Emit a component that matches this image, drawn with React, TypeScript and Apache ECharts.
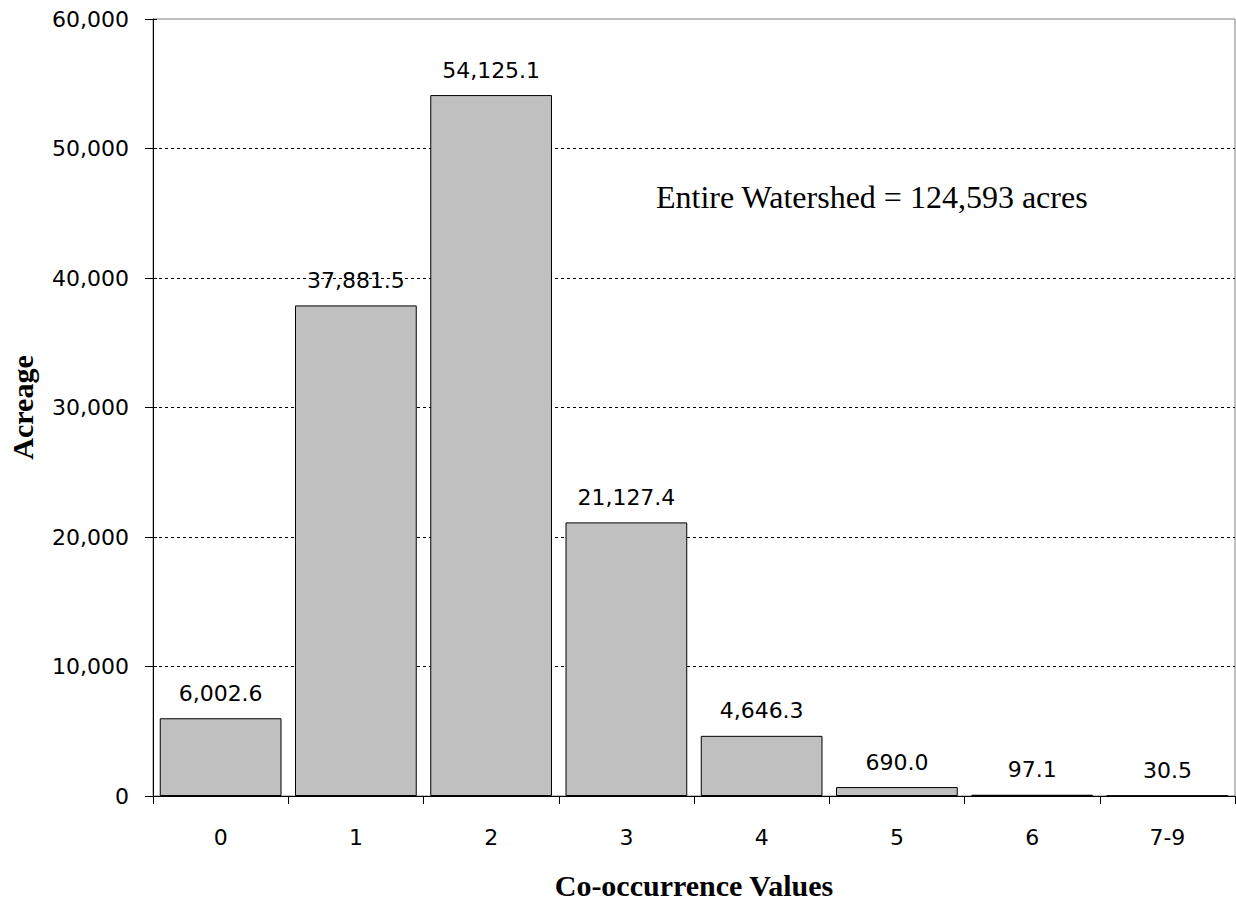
import React, { useEffect, useRef } from "react";
import * as echarts from "echarts";

const categories = ["0", "1", "2", "3", "4", "5", "6", "7-9"];
const acreage = [6002.6, 37881.5, 54125.1, 21127.4, 4646.3, 690.0, 97.1, 30.5];
const gridValues = [10000, 20000, 30000, 40000, 50000];
const annotation = "Entire Watershed = 124,593 acres";

const fmtNum = (v: number) =>
  v.toLocaleString("en-US", { maximumFractionDigits: 0 });
const fmtLabel = (v: number) =>
  v.toLocaleString("en-US", { minimumFractionDigits: 1, maximumFractionDigits: 1 });

export default function App() {
  const ref = useRef<HTMLDivElement>(null);
  useEffect(() => {
    if (!ref.current) return;
    const chart = echarts.init(ref.current, null, { renderer: "svg" });
    const tickFont = { fontFamily: "DejaVu Sans", fontSize: 22, color: "#000" };
    const titleFont = {
      fontFamily: "Liberation Serif",
      fontWeight: "bold",
      fontSize: 30,
      color: "#000",
    };
    chart.setOption({
      animation: false,
      backgroundColor: "#fff",
      grid: {
        left: 153,
        right: 1,
        top: 19,
        bottom: 108,
        containLabel: false,
        outerBoundsMode: "none",
        show: true,
        borderColor: "#808080",
        borderWidth: 1,
        backgroundColor: "transparent",
      },
      xAxis: {
        type: "category",
        data: categories,
        name: "Co-occurrence Values",
        nameLocation: "middle",
        nameGap: 74,
        nameTextStyle: titleFont,
        axisLine: { lineStyle: { color: "#000", width: 1 } },
        axisTick: { show: true, length: 8, lineStyle: { color: "#000" } },
        axisLabel: { ...tickFont, margin: 30 },
        splitLine: { show: false },
      },
      yAxis: [
        {
          type: "value",
          min: 0,
          max: 60000,
          interval: 10000,
          name: "Acreage",
          nameLocation: "middle",
          nameGap: 116,
          nameTextStyle: titleFont,
          axisLine: { show: true, lineStyle: { color: "#000", width: 1 } },
          axisTick: { show: true, length: 8, lineStyle: { color: "#000" } },
          axisLabel: { ...tickFont, margin: 24, formatter: (v: number) => fmtNum(v) },
          splitLine: { show: false },
        },
        {
          type: "value",
          position: "left",
          min: 0,
          max: 60000,
          interval: 10000,
          axisLine: { show: false },
          axisTick: { show: true, inside: true, length: 4, lineStyle: { color: "#000" } },
          axisLabel: { show: false },
          splitLine: { show: false },
        },
      ],
      series: [
        {
          type: "bar",
          data: acreage,
          barCategoryGap: "10%",
          itemStyle: { color: "#C0C0C0", borderColor: "#000", borderWidth: 1 },
          label: {
            show: true,
            position: "top",
            distance: 14,
            ...tickFont,
            formatter: (p: any) => fmtLabel(p.value),
          },
          markLine: {
            silent: true,
            symbol: "none",
            label: { show: false },
            lineStyle: { color: "#000", type: [3, 3], width: 1 },
            data: gridValues.map((v) => ({ yAxis: v })),
            z: 1,
          },
          z: 2,
        },
      ],
      graphic: [
        {
          type: "text",
          left: 656,
          top: 181,
          style: {
            text: annotation,
            fontFamily: "Liberation Serif",
            fontSize: 32,
            fill: "#000",
          },
        },
      ],
    });
    return () => chart.dispose();
  }, []);
  return (
    <div
      ref={ref}
      style={{ position: "absolute", left: 0, top: 0, width: 1236, height: 904 }}
    />
  );
}
